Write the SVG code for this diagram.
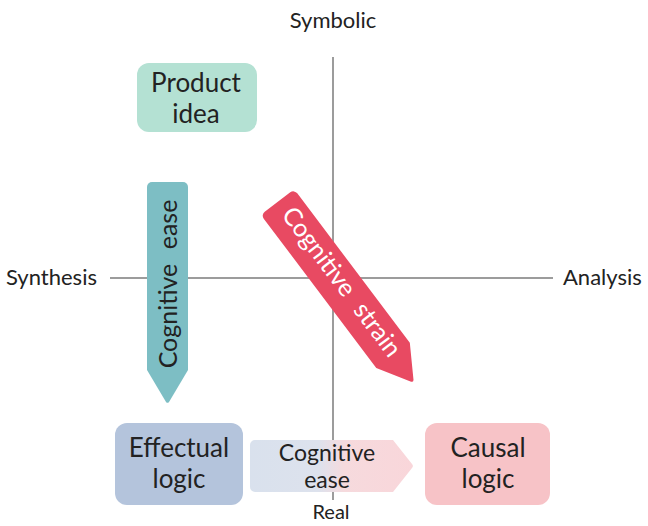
<svg xmlns="http://www.w3.org/2000/svg" width="648" height="526" viewBox="0 0 648 526">
<defs>
<style>
text{font-family:Lato,"Open Sans","Liberation Sans",sans-serif;fill:#222}
.axis{stroke:#9c9c9c;stroke-width:2;fill:none}
.lbl{font-size:22px}
.node{font-size:26px;text-anchor:middle}
.arr{font-size:25px;text-anchor:middle}
.arr2{font-size:23px;text-anchor:middle}
</style>
<linearGradient id="g" x1="250" y1="0" x2="413" y2="0" gradientUnits="userSpaceOnUse">
<stop offset="0" stop-color="#d9e1ed"/>
<stop offset="0.42" stop-color="#dde2ed"/>
<stop offset="0.58" stop-color="#f6dadd"/>
<stop offset="1" stop-color="#f9d6da"/>
</linearGradient>
<path id="pen" d="M-20.5,5 a5,5 0 0 1 5,-5 h31 a5,5 0 0 1 5,5 V188 L1.5,220 a2,2 0 0 1 -3,0 L-20.5,188 Z"/>
<path id="pen2" d="M-21,5 a5,5 0 0 1 5,-5 h32 a5,5 0 0 1 5,5 V192 L1.5,224 a2,2 0 0 1 -3,0 L-21,192 Z"/>
</defs>
<rect width="648" height="526" fill="#fff"/>
<g id="axes">
<line class="axis" x1="333" y1="57" x2="333" y2="500"/>
<line class="axis" x1="110" y1="278" x2="553" y2="278"/>
<text class="lbl" x="333" y="28" text-anchor="middle">Symbolic</text>
<text class="lbl" x="331" y="519" text-anchor="middle" style="font-size:20px">Real</text>
<text class="lbl" x="6" y="285">Synthesis</text>
<text class="lbl" x="563" y="285">Analysis</text>
</g>
<g id="connectors">
<g id="ease-vertical">
<use href="#pen" transform="translate(167.5,182)" fill="#7dbec4"/>
<text class="arr" transform="translate(176.5,284) rotate(-90)" word-spacing="8">Cognitive ease</text>
</g>
<g id="strain">
<use href="#pen2" transform="translate(277.5,202) rotate(-37)" fill="#e84a62"/>
<text class="arr" transform="translate(335,287) rotate(53)" style="fill:#fff" word-spacing="8">Cognitive strain</text>
</g>
<g id="ease-horizontal">
<path d="M255,440 H393 L412,464 a3,3 0 0 1 0,4 L393,492 H255 a5,5 0 0 1 -5,-5 V445 a5,5 0 0 1 5,-5 Z" fill="url(#g)"/>
<text class="arr2" x="327" y="461">Cognitive</text>
<text class="arr2" x="327" y="488">ease</text>
</g>
</g>
<g id="product-idea">
<rect x="137" y="63" width="120" height="69" rx="12" fill="#b4e1d3"/>
<text class="node" x="196" y="92">Product</text>
<text class="node" x="196" y="123">idea</text>
</g>
<g id="effectual-logic">
<rect x="115" y="423" width="128" height="82" rx="12" fill="#b4c4dc"/>
<text class="node" x="179" y="457">Effectual</text>
<text class="node" x="179" y="488">logic</text>
</g>
<g id="causal-logic">
<rect x="425" y="423" width="125" height="82" rx="12" fill="#f7c3c7"/>
<text class="node" x="488" y="457">Causal</text>
<text class="node" x="488" y="488">logic</text>
</g>
</svg>
